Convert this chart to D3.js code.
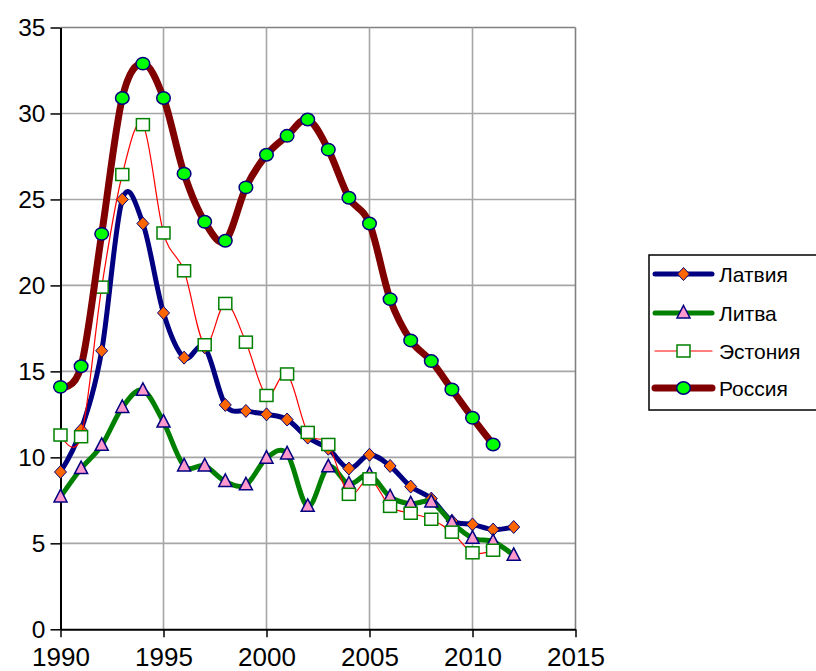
<!DOCTYPE html>
<html>
<head>
<meta charset="utf-8">
<script src="https://cdn.jsdelivr.net/npm/d3@7/dist/d3.min.js"></script>
<style>
  html, body { margin: 0; padding: 0; background: #fff; }
  svg { display: block; font-family: "Liberation Sans", Arial, sans-serif; }
</style>
</head>
<body>
<svg id="chart" width="816" height="671"></svg>
<script>
const years = d3.range(1990, 2013);
const xTicks = [1990, 1995, 2000, 2005, 2010, 2015];
const yTicks = [0, 5, 10, 15, 20, 25, 30, 35];
const seriesNames = ["Латвия", "Литва", "Эстония", "Россия"];

const latvia = [9.15, 11.6, 16.2, 25.0, 23.6, 18.4, 15.8, 16.4, 13.05, 12.7, 12.5, 12.2, 11.15, 10.5, 9.35, 10.15, 9.5, 8.3, 7.6, 6.3, 6.1, 5.8, 5.95];
const lithuania = [7.7, 9.35, 10.7, 12.9, 13.9, 12.05, 9.5, 9.5, 8.6, 8.4, 9.95, 10.2, 7.15, 9.45, 8.45, 9.0, 7.7, 7.3, 7.4, 6.2, 5.3, 5.1, 4.3];
const estonia = [11.3, 11.2, 19.9, 26.45, 29.35, 23.05, 20.85, 16.55, 18.95, 16.7, 13.6, 14.85, 11.45, 10.75, 7.85, 8.75, 7.15, 6.75, 6.4, 5.65, 4.45, 4.6];
const russia = [14.1, 15.3, 23.0, 30.9, 32.9, 30.9, 26.5, 23.7, 22.6, 25.7, 27.6, 28.7, 29.65, 27.9, 25.1, 23.6, 19.2, 16.8, 15.6, 13.95, 12.3, 10.75];

const svg = d3.select("#chart");
const x = d3.scaleLinear().domain([1990, 2015]).range([60.5, 575.5]);
const y = d3.scaleLinear().domain([0, 35]).range([629.3, 27.5]);

// gridlines
const grid = svg.append("g");
grid.selectAll("line.h").data(yTicks.filter(d => d > 0)).join("line")
  .attr("x1", x(1990)).attr("x2", x(2015))
  .attr("y1", d => y(d)).attr("y2", d => y(d))
  .attr("stroke", d => d === 35 ? "#808080" : "#a6a6a6").attr("stroke-width", 1.6);
grid.selectAll("line.v").data(xTicks.filter(d => d > 1990)).join("line")
  .attr("y1", y(0)).attr("y2", y(35))
  .attr("x1", d => x(d)).attr("x2", d => x(d))
  .attr("stroke", d => d === 2015 ? "#808080" : "#a6a6a6").attr("stroke-width", 1.6);

// axes
const xAxis = d3.axisBottom(x).tickValues(xTicks).tickFormat(d3.format("d")).tickSize(8).tickSizeOuter(0);
const yAxis = d3.axisLeft(y).tickValues(yTicks).tickSize(10).tickSizeOuter(0);
const gx = svg.append("g").attr("transform", `translate(0,${y(0)})`).call(xAxis);
const gy = svg.append("g").attr("transform", `translate(${x(1990)},0)`).call(yAxis);
[gx, gy].forEach(g => {
  g.select(".domain").attr("stroke", "#000").attr("stroke-width", 2);
  g.selectAll(".tick line").attr("stroke", "#000").attr("stroke-width", 1.5);
  g.selectAll(".tick text").attr("font-family", "'Liberation Sans', Arial, sans-serif").attr("fill", "#000");
});
gx.selectAll(".tick text").attr("font-size", 26).attr("dy", "0").attr("y", 37);
gy.selectAll(".tick text").attr("font-size", 24.5).attr("x", -15);

const curve = d3.curveCardinal.tension(0);
const mkLine = d3.line().x((d, i) => x(years[i])).y(d => y(d)).curve(curve);

const specs = [
  { name: seriesNames[0], data: latvia, color: "#000080", width: 5, marker: "diamond", fill: "#ff6600", stroke: "#000080" },
  { name: seriesNames[1], data: lithuania, color: "#008000", width: 5, marker: "triangle", fill: "#ff99cc", stroke: "#000080" },
  { name: seriesNames[2], data: estonia, color: "#ff0000", width: 1.2, marker: "square", fill: "#ffffff", stroke: "#008000" },
  { name: seriesNames[3], data: russia, color: "#800000", width: 7, marker: "circle", fill: "#00ff00", stroke: "#000080" }
];

function drawMarker(g, type, cx, cy, fill, stroke) {
  if (type === "diamond") {
    g.append("path").attr("d", `M${cx},${cy-6.5}L${cx+6},${cy}L${cx},${cy+6.5}L${cx-6},${cy}Z`)
      .attr("fill", fill).attr("stroke", stroke).attr("stroke-width", 1);
  } else if (type === "triangle") {
    g.append("path").attr("d", `M${cx},${cy-7.5}L${cx+6.5},${cy+5}L${cx-6.5},${cy+5}Z`)
      .attr("fill", fill).attr("stroke", stroke).attr("stroke-width", 1.5);
  } else if (type === "square") {
    g.append("rect").attr("x", cx - 6.5).attr("y", cy - 6).attr("width", 13).attr("height", 12)
      .attr("fill", fill).attr("stroke", stroke).attr("stroke-width", 1.5);
  } else {
    g.append("ellipse").attr("cx", cx).attr("cy", cy).attr("rx", 6.8).attr("ry", 6.2)
      .attr("fill", fill).attr("stroke", stroke).attr("stroke-width", 1.5);
  }
}

specs.forEach(s => {
  const g = svg.append("g");
  g.append("path").datum(s.data).attr("d", mkLine)
    .attr("fill", "none").attr("stroke", s.color).attr("stroke-width", s.width)
    .attr("stroke-linejoin", "round").attr("stroke-linecap", "round");
  s.data.forEach((v, i) => drawMarker(g, s.marker, x(years[i]), y(v), s.fill, s.stroke));
});

// legend
const lg = svg.append("g");
lg.append("rect").attr("x", 649).attr("y", 255).attr("width", 180).attr("height", 155)
  .attr("fill", "#fff").attr("stroke", "#000").attr("stroke-width", 1.5);
const rowsY = [274, 313, 351, 388];
specs.forEach((s, i) => {
  const ry = rowsY[i];
  lg.append("line").attr("x1", 655).attr("x2", 712).attr("y1", ry).attr("y2", ry)
    .attr("stroke", s.color).attr("stroke-width", s.width).attr("stroke-linecap", "round");
  drawMarker(lg, s.marker, 683.5, ry, s.fill, s.stroke);
  lg.append("text").attr("x", 719).attr("y", ry).attr("dy", "0.36em")
    .attr("font-size", 21).attr("fill", "#000").text(s.name);
});
</script>
</body>
</html>
